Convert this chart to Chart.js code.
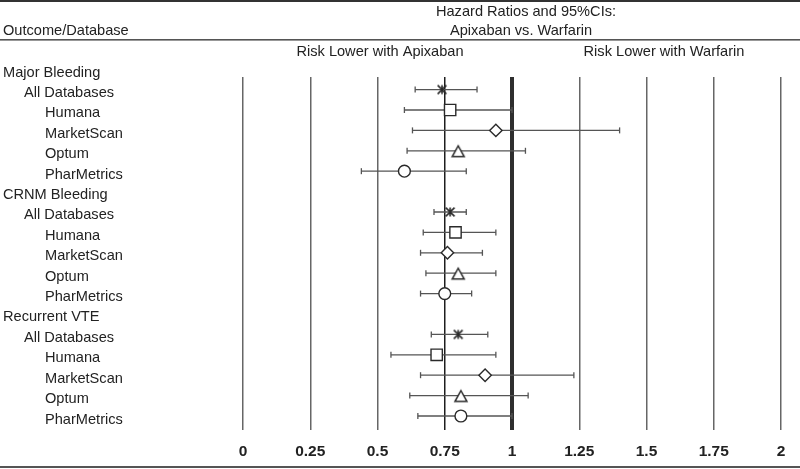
<!DOCTYPE html>
<html>
<head>
<meta charset="utf-8">
<title>Hazard Ratios: Apixaban vs. Warfarin</title>
<script src="https://cdn.jsdelivr.net/npm/chart.js@4"></script>
<style>
  html, body { margin: 0; padding: 0; background: #fff; }
  #wrap { position: relative; width: 800px; height: 469px; }
</style>
</head>
<body>
<div id="wrap"><canvas id="forest" width="800" height="469"></canvas></div>
<script>
// rows of the table (outcome headers and databases)
const outcomes = ['Major Bleeding', 'CRNM Bleeding', 'Recurrent VTE'];
const databases = ['All Databases', 'Humana', 'MarketScan', 'Optum', 'PharMetrics'];

// hazard ratios and 95% CI, in database order
const majorHR = [0.74, 0.77, 0.94, 0.80, 0.60];
const majorLo = [0.64, 0.60, 0.63, 0.61, 0.44];
const majorHi = [0.87, 1.00, 1.40, 1.05, 0.83];

const crnmHR = [0.77, 0.79, 0.76, 0.80, 0.75];
const crnmLo = [0.71, 0.67, 0.66, 0.68, 0.66];
const crnmHi = [0.83, 0.94, 0.89, 0.94, 0.85];

const vteHR = [0.80, 0.72, 0.90, 0.81, 0.81];
const vteLo = [0.70, 0.55, 0.66, 0.62, 0.65];
const vteHi = [0.91, 0.94, 1.23, 1.06, 1.00];

const tickLabels = ['0', '0.25', '0.5', '0.75', '1', '1.25', '1.5', '1.75', '2'];

const hrByOutcome = [majorHR, crnmHR, vteHR];
const loByOutcome = [majorLo, crnmLo, vteLo];
const hiByOutcome = [majorHi, crnmHi, vteHi];

const FONT = "'Liberation Sans', Arial, sans-serif";
const INK = '#222';
const MARK = '#2a2a2a';
const CI_COLOR = '#555';

// row index: outcome header, then its five databases
const rowOf = (o, d) => o * (databases.length + 1) + 1 + d;

// custom marks: asterisk and triangle drawn on small canvases
function asterisk() {
  const c = document.createElement('canvas');
  c.width = 14; c.height = 14;
  const g = c.getContext('2d');
  const m = 7, a = 4.4;
  g.strokeStyle = MARK; g.lineWidth = 1.6;
  g.beginPath();
  g.moveTo(m - a, m - a); g.lineTo(m + a, m + a);
  g.moveTo(m + a, m - a); g.lineTo(m - a, m + a);
  g.moveTo(m, m - a); g.lineTo(m, m + a);
  g.stroke();
  return c;
}
function triangle() {
  const c = document.createElement('canvas');
  c.width = 16; c.height = 16;
  const g = c.getContext('2d');
  const m = 8;
  g.fillStyle = '#fff'; g.strokeStyle = MARK; g.lineWidth = 1.5;
  g.beginPath();
  g.moveTo(m, m - 5);
  g.lineTo(m + 6, m + 5.8);
  g.lineTo(m - 6, m + 5.8);
  g.closePath();
  g.fill(); g.stroke();
  return c;
}

const markStyles = [asterisk(), 'rect', 'rectRot', triangle(), 'circle'];
const markRadius = [7, 8, 6.2, 8, 5.9];

const datasets = [];

// point estimates, one dataset per database
databases.forEach((db, d) => {
  datasets.push({
    label: db,
    order: 0,
    data: outcomes.map((o, i) => ({ x: hrByOutcome[i][d], y: rowOf(i, d) })),
    pointStyle: markStyles[d],
    pointRadius: markRadius[d],
    pointBackgroundColor: '#fff',
    pointBorderColor: MARK,
    pointBorderWidth: 1.4,
    showLine: false
  });
});

// confidence intervals with end caps
outcomes.forEach((o, i) => {
  databases.forEach((db, d) => {
    datasets.push({
      label: o + ' ' + db + ' CI',
      order: 1,
      data: [
        { x: loByOutcome[i][d], y: rowOf(i, d) },
        { x: hiByOutcome[i][d], y: rowOf(i, d) }
      ],
      showLine: true,
      borderColor: CI_COLOR,
      borderWidth: 1.3,
      pointStyle: 'line',
      rotation: 90,
      pointRadius: 3,
      pointBorderColor: CI_COLOR,
      pointBorderWidth: 1.3
    });
  });
});

// header, rules and row labels
const tablePlugin = {
  id: 'table',
  afterDraw(chart) {
    const ctx = chart.ctx;
    const y = chart.scales.y;
    ctx.save();

    // horizontal rules
    ctx.fillStyle = '#333';
    ctx.fillRect(0, 0, 800, 2);
    ctx.fillStyle = '#555';
    ctx.fillRect(0, 39, 800, 1.6);
    ctx.fillRect(0, 466, 800, 2);

    ctx.fillStyle = INK;
    ctx.font = '14.6px ' + FONT;
    ctx.textBaseline = 'alphabetic';

    ctx.textAlign = 'left';
    ctx.fillText('Outcome/Database', 3, 35);

    ctx.textAlign = 'center';
    ctx.fillText('Hazard Ratios and 95%CIs:', 526, 16);
    ctx.fillText('Apixaban vs. Warfarin', 521, 35);
    ctx.fillText('Risk Lower with Apixaban', 380, 56);
    ctx.fillText('Risk Lower with Warfarin', 664, 56);

    // row labels
    ctx.textAlign = 'left';
    outcomes.forEach((o, i) => {
      const r0 = rowOf(i, 0) - 1;
      ctx.fillText(o, 3, y.getPixelForValue(r0) + 7.5);
      databases.forEach((db, d) => {
        const x = d === 0 ? 24 : 45;
        ctx.fillText(db, x, y.getPixelForValue(rowOf(i, d)) + 7.5);
      });
    });
    ctx.restore();
  }
};

new Chart(document.getElementById('forest'), {
  type: 'scatter',
  data: { datasets },
  options: {
    responsive: false,
    animation: false,
    devicePixelRatio: 1,
    layout: { padding: { left: 243, right: 19, top: 77, bottom: 0 } },
    plugins: {
      legend: { display: false },
      tooltip: { enabled: false }
    },
    scales: {
      x: {
        type: 'linear',
        min: 0,
        max: 2,
        afterFit(scale) { scale.height = 39; },
        border: { display: false },
        grid: {
          drawTicks: false,
          color: c => {
            const v = c.tick ? c.tick.value : 0;
            if (Math.abs(v - 1) < 1e-6) return '#2e2e2e';
            if (Math.abs(v - 0.75) < 1e-6) return '#1e1e1e';
            return '#666';
          },
          lineWidth: c => (c.tick && Math.abs(c.tick.value - 1) < 1e-6 ? 4 : 1.5)
        },
        ticks: {
          stepSize: 0.25,
          autoSkip: false,
          maxRotation: 0,
          padding: 12,
          color: INK,
          font: { family: FONT, size: 15.5, weight: 'bold' },
          callback: (value, i) => tickLabels[i]
        }
      },
      y: {
        type: 'linear',
        reverse: true,
        min: 0.383,
        max: 17.686,
        display: false
      }
    }
  },
  plugins: [tablePlugin]
});
</script>
</body>
</html>
